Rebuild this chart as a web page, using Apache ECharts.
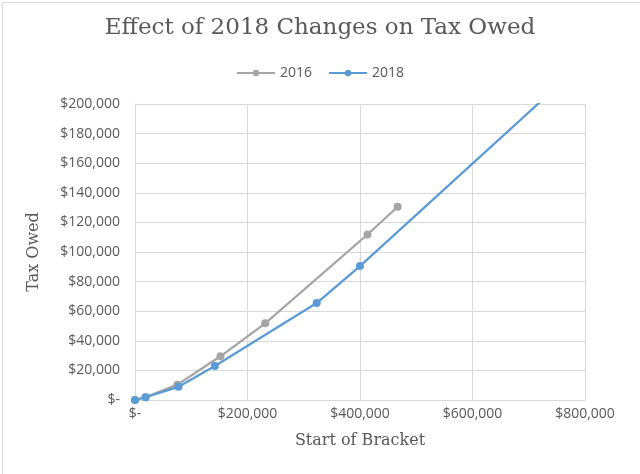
<!DOCTYPE html>
<html>
<head>
<meta charset="utf-8">
<script src="https://cdn.jsdelivr.net/npm/echarts@6/dist/echarts.min.js"></script>
<style>html,body{margin:0;padding:0;background:#fff}#c{width:640px;height:474px}</style>
</head>
<body>
<div id="c"></div>
<script>
const seriesNames = ['2016', '2018'];
const brackets2016 = [0, 18550, 75300, 151900, 231450, 413350, 466950];
const tax2016 = [0, 1855, 10368, 29518, 51792, 111819, 130579];
const brackets2018 = [0, 19050, 77400, 142000, 323000, 400000, 800000];
const tax2018 = [0, 1905, 8907, 23000, 65500, 90500, 229000];
const xTicks = [0, 200000, 400000, 600000, 800000];
const yTicks = [0, 20000, 40000, 60000, 80000, 100000, 120000, 140000, 160000, 180000, 200000];

function money(v) {
  if (v === 0) return '$-';
  return '$' + v.toLocaleString('en-US');
}
const pair = (xs, ys) => xs.map((x, i) => [x, ys[i]]);

const chart = echarts.init(document.getElementById('c'), null, {renderer: 'canvas'});
const sans = '"Open Sans", "Noto Sans", sans-serif';
const serif = '"DejaVu Serif", "Liberation Serif", serif';
chart.setOption({
  animation: false,
  backgroundColor: '#fff',
  title: {
    text: 'Effect of 2018 Changes on Tax Owed',
    left: 'center', top: 12,
    textStyle: {fontFamily: serif, fontSize: 23, fontWeight: 'normal', color: '#595959'}
  },
  legend: {
    top: 61, left: 'center',
    itemWidth: 38, itemHeight: 8, itemGap: 16,
    textStyle: {fontFamily: sans, fontSize: 14, color: '#595959'},
    data: seriesNames
  },
  grid: {left: 135, right: 55, top: 104, bottom: 74},
  xAxis: {
    type: 'value', min: xTicks[0], max: xTicks[xTicks.length - 1], interval: 200000,
    name: 'Start of Bracket', nameLocation: 'middle', nameGap: 33,
    nameTextStyle: {fontFamily: serif, fontSize: 16, color: '#595959'},
    axisLine: {show: true, lineStyle: {color: '#d9d9d9'}},
    axisTick: {show: false},
    axisLabel: {formatter: money, fontFamily: sans, fontSize: 14, color: '#595959', margin: 7},
    splitLine: {show: true, lineStyle: {color: '#d9d9d9', width: 1}}
  },
  yAxis: {
    type: 'value', min: yTicks[0], max: yTicks[yTicks.length - 1], interval: 20000,
    name: 'Tax Owed', nameLocation: 'middle', nameGap: 93, nameRotate: 90,
    nameTextStyle: {fontFamily: serif, fontSize: 16, color: '#595959'},
    axisLine: {show: true, lineStyle: {color: '#d9d9d9'}},
    axisTick: {show: false},
    axisLabel: {formatter: money, fontFamily: sans, fontSize: 14, color: '#595959', margin: 15},
    splitLine: {show: true, lineStyle: {color: '#d9d9d9', width: 1}}
  },
  series: [
    {
      name: seriesNames[0], type: 'line', data: pair(brackets2016, tax2016),
      symbol: 'circle', symbolSize: 8, clip: true,
      lineStyle: {color: '#A5A5A5', width: 2.25},
      itemStyle: {color: '#A5A5A5'}
    },
    {
      name: seriesNames[1], type: 'line', data: pair(brackets2018, tax2018),
      symbol: 'circle', symbolSize: 8, clip: true,
      lineStyle: {color: '#5B9BD5', width: 2.25},
      itemStyle: {color: '#5B9BD5'}
    }
  ],
  graphic: [{
    type: 'rect', left: 0, top: 0, silent: true,
    shape: {x: 0.5, y: 0.5, width: 639, height: 473},
    style: {fill: 'none', stroke: '#d9d9d9', lineWidth: 1}
  }]
});
</script>
</body>
</html>
